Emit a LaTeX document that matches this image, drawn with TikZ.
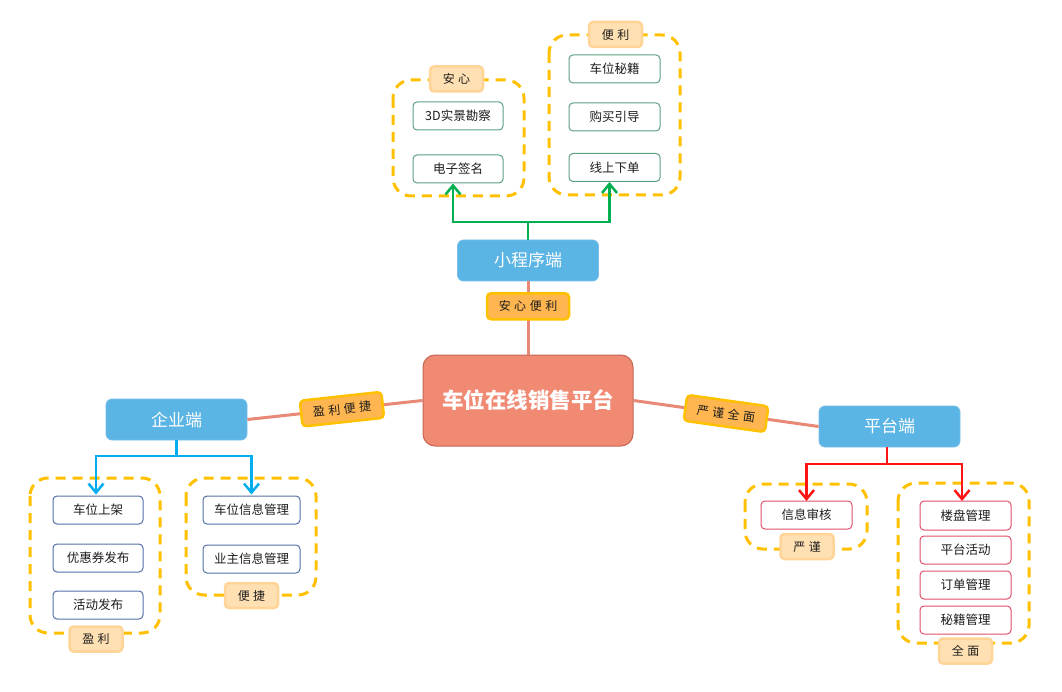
\documentclass[tikz,border=0pt]{standalone}
\usepackage{fontspec}
\setmainfont{Noto Sans CJK SC}
\newfontfamily\cjk{Noto Sans CJK SC}
\usetikzlibrary{arrows.meta}

\definecolor{coreFill}{RGB}{240,138,115}
\definecolor{coreLine}{RGB}{196,102,86}
\definecolor{link}{RGB}{232,137,120}
\definecolor{endFill}{RGB}{90,180,228}
\definecolor{endLine}{RGB}{120,190,235}
\definecolor{tagFill}{RGB}{255,182,80}
\definecolor{tagLine}{RGB}{255,192,0}
\definecolor{capFill}{RGB}{255,224,178}
\definecolor{capLine}{RGB}{255,212,150}
\definecolor{groupLine}{RGB}{255,192,0}
\definecolor{greenArr}{RGB}{0,176,80}
\definecolor{greenBox}{RGB}{92,160,130}
\definecolor{blueArr}{RGB}{0,174,239}
\definecolor{blueBox}{RGB}{85,112,168}
\definecolor{redArr}{RGB}{255,20,20}
\definecolor{redBox}{RGB}{224,80,106}
\definecolor{ink}{RGB}{30,30,30}

% spaced lettering for the small tags
\newcommand\spc{\hspace{3.5pt}}

\tikzset{
  core/.style={draw=coreLine, line width=1pt, fill=coreFill, rounded corners=12pt,
    minimum width=210pt, minimum height=91pt, text=white, font=\cjk\bfseries\fontsize{21.5}{24}\selectfont},
  endpoint/.style={draw=endLine, line width=0.8pt, fill=endFill, rounded corners=6pt,
    minimum width=141pt, minimum height=41pt, text=white, font=\cjk\fontsize{17}{20}\selectfont},
  tag/.style={draw=tagLine, line width=2.5pt, fill=tagFill, rounded corners=4pt,
    minimum width=82pt, minimum height=26pt, inner sep=0pt, text=ink, font=\cjk\fontsize{12}{14}\selectfont},
  captag/.style={draw=capLine, line width=2.5pt, fill=capFill, rounded corners=4pt,
    minimum width=53pt, minimum height=25pt, inner sep=0pt, text=ink, font=\cjk\fontsize{12}{14}\selectfont},
  group/.style={draw=groupLine, line width=3pt, dash pattern=on 10pt off 7pt, rounded corners=18pt},
  item/.style={draw=#1, line width=1pt, fill=white, rounded corners=4pt,
    minimum width=90pt, minimum height=28pt, inner sep=0pt, text=ink, font=\cjk\fontsize{12.5}{14}\selectfont},
  mainlink/.style={draw=link, line width=3pt},
  branch/.style={draw=#1, line width=2.5pt},
  arr/.style={draw=#1, line width=2.5pt, -{Straight Barb[length=9pt,width=15pt,line width=2.5pt]}},
}

\begin{document}
\begin{tikzpicture}[x=1pt,y=-1pt]
\useasboundingbox (0,0) rectangle (1062,692);

% ---- dashed groups (drawn first, under everything) ----
\draw[group] (393,80) rectangle (524,196);
\draw[group] (549,35) rectangle (680,195);
\draw[group] (30,478) rectangle (160,633);
\draw[group] (186,478) rectangle (316,595);
\draw[group] (745,484) rectangle (867,549);
\draw[group] (898,483) rectangle (1029,643);

% ---- central and endpoint nodes ----
\node[core] (core) at (528,400.5) {车位在线销售平台};
\node[endpoint] (mini) at (528,260.5) {小程序端};
\node[endpoint] (ent) at (176.5,419.5) {企业端};
\node[endpoint] (plat) at (889.5,426.5) {平台端};

% ---- main links with their tags ----
\draw[mainlink] (core) -- node[tag, pos=0.66] (tagA) {安\spc 心\spc 便\spc 利} (mini);
\draw[mainlink] (core.west) -- node[tag, sloped, pos=0.46] (tagB) {盈\spc 利\spc 便\spc 捷} (ent.east);
\draw[mainlink] (core.east) -- node[tag, sloped, pos=0.5] (tagC) {严\spc 谨\spc 全\spc 面} (plat.west);

% ---- mini-program items ----
\node[item=greenBox] (vr) at (458,116) {3D实景勘察};
\node[item=greenBox] (sign) at (458,169) {电子签名};
\node[item=greenBox, minimum width=91pt] (tips) at (614.5,69) {车位秘籍};
\node[item=greenBox, minimum width=91pt] (guide) at (614.5,117) {购买引导};
\node[item=greenBox, minimum width=91pt] (order) at (614.5,167.5) {线上下单};
\node[captag] (capA) at (456.5,79) {安\spc 心};
\node[captag] (capB) at (615.5,34.5) {便\spc 利};

% ---- enterprise items ----
\node[item=blueBox] (list) at (98,510) {车位上架};
\node[item=blueBox] (coupon) at (98,558) {优惠券发布};
\node[item=blueBox] (event) at (98,605) {活动发布};
\node[item=blueBox, minimum width=97pt] (spot) at (251.5,510) {车位信息管理};
\node[item=blueBox, minimum width=97pt] (owner) at (251.5,559) {业主信息管理};
\node[captag] (capC) at (96,639) {盈\spc 利};
\node[captag] (capD) at (251.5,595.5) {便\spc 捷};

% ---- platform items ----
\node[item=redBox, minimum width=91pt] (audit) at (806.5,515) {信息审核};
\node[item=redBox, minimum width=91pt, minimum height=29pt] (estate) at (965.5,515.5) {楼盘管理};
\node[item=redBox, minimum width=91pt] (pact) at (965.5,550) {平台活动};
\node[item=redBox, minimum width=91pt] (omgmt) at (965.5,585) {订单管理};
\node[item=redBox, minimum width=91pt] (smgmt) at (965.5,620) {秘籍管理};
\node[captag] (capE) at (807,546.5) {严\spc 谨};
\node[captag] (capF) at (965.5,651) {全\spc 面};

% ---- branch connectors ----
\coordinate (gj) at (528,222);
\draw[branch=greenArr] (mini.north) -- (gj);
\draw[arr=greenArr] (gj) -| ([xshift=-5pt]sign.south);
\draw[arr=greenArr] (gj) -| ([xshift=-5pt]order.south);

\coordinate (bj) at (176.5,456);
\draw[branch=blueArr] (ent.south) -- (bj);
\draw[arr=blueArr] (bj) -| ([xshift=-2pt,yshift=1pt]list.north);
\draw[arr=blueArr] (bj) -| ([yshift=1pt]spot.north);

\coordinate (rj) at (887,464);
\draw[branch=redArr] ([xshift=-2.5pt]plat.south) -- (rj);
\draw[arr=redArr] (rj) -| ([yshift=-0.5pt]audit.north);
\draw[arr=redArr] (rj) -| ([xshift=-3.5pt,yshift=-0.5pt]estate.north);
\end{tikzpicture}
\end{document}
